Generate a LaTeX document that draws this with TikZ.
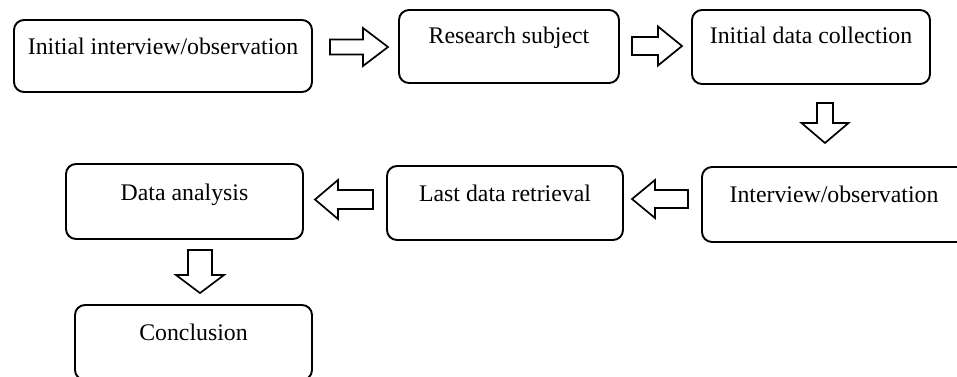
\documentclass[tikz,border=0pt]{standalone}
\usepackage{fontspec}
\setmainfont{Liberation Serif}
\usetikzlibrary{calc}
\tikzset{
  stepbox/.style={draw=black, line width=1.9pt, rounded corners=10pt, rectangle,
    inner sep=0pt, anchor=base, font=\fontsize{23.8}{28}\selectfont},
  arrowline/.style={draw=black, line width=1.7pt, fill=white, line join=miter},
  pics/barrow/.style n args={4}{code={
    \path[arrowline] (0,-#3/2) -- (#1-#4,-#3/2) -- (#1-#4,-#2/2) -- (#1,0)
      -- (#1-#4,#2/2) -- (#1-#4,#3/2) -- (0,#3/2) -- cycle;}}
}
\begin{document}
\begin{tikzpicture}[x=1pt,y=-1pt]
\useasboundingbox (0,0) rectangle (957,376);
\clip (0,0) rectangle (957,376);
\node[stepbox, minimum width=298pt, text height=34pt, text depth=38pt] (b1) at (163,54) {Initial interview/observation};
\node[stepbox, minimum width=220pt, text height=33pt, text depth=40pt] (b2) at (509,43) {Research subject};
\node[stepbox, minimum width=238pt, text height=33pt, text depth=41pt] (b3) at (811,43) {Initial data collection};
\node[stepbox, minimum width=290pt, text height=35pt, text depth=40pt, xshift=13pt] (b4) at (834,202) {\hspace*{-26pt}Interview/observation};
\node[stepbox, minimum width=236pt, text height=35pt, text depth=39pt] (b5) at (505,201) {Last data retrieval};
\node[stepbox, minimum width=237pt, text height=36pt, text depth=39pt] (b6) at (184.5,200) {Data analysis};
\node[stepbox, minimum width=237pt, text height=35pt, text depth=40pt] (b7) at (193.5,340) {Conclusion};
\pic (a1) at (330,47) {barrow={58}{38}{15}{25}};
\pic (a2) at (632,46) {barrow={50}{39}{18}{24}};
\pic[rotate=-90] (a3) at (825,103) {barrow={40}{47}{16}{20}};
\pic[rotate=180] (a4) at (688,199) {barrow={56}{38}{18}{23}};
\pic[rotate=180] (a5) at (373,199.5) {barrow={58}{39}{19}{23}};
\pic[rotate=-90] (a6) at (200,250) {barrow={43}{48}{24}{18}};
\end{tikzpicture}
\end{document}
